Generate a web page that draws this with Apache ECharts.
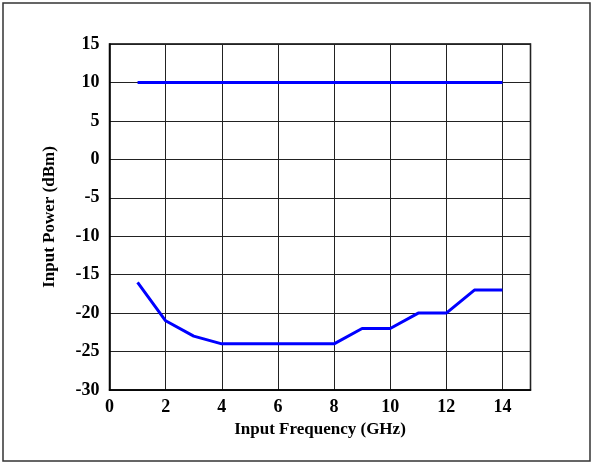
<!DOCTYPE html>
<html>
<head>
<meta charset="utf-8">
<script src="https://cdn.jsdelivr.net/npm/echarts@6/dist/echarts.min.js"></script>
<style>
html,body{margin:0;padding:0;background:#fff;}
#c{width:593px;height:464px;}
</style>
</head>
<body>
<div id="c"></div>
<script>
const freqGHz = [1, 2, 3, 4, 5, 6, 7, 8, 9, 10, 11, 12, 13, 14];
const upperPower = [10, 10, 10, 10, 10, 10, 10, 10, 10, 10, 10, 10, 10, 10];
const lowerPower = [-16, -21, -23, -24, -24, -24, -24, -24, -22, -22, -20, -20, -17, -17];
const xTicks = [0, 2, 4, 6, 8, 10, 12, 14];
const yTicks = [-30, -25, -20, -15, -10, -5, 0, 5, 10, 15];

const chart = echarts.init(document.getElementById('c'), null, {renderer: 'canvas'});
const font = 'Liberation Serif';
const pair = (xs, ys) => xs.map((x, i) => [x, ys[i]]);

chart.setOption({
  animation: false,
  backgroundColor: '#fff',
  graphic: [{
    type: 'rect',
    shape: {x: 3, y: 3, width: 587, height: 458},
    style: {fill: 'none', stroke: '#333', lineWidth: 1.5},
    silent: true
  }],
  grid: {
    left: 109.5, right: 62.5, top: 44, bottom: 74,
    show: true, borderColor: '#000', borderWidth: 1.5, backgroundColor: 'transparent'
  },
  xAxis: {
    type: 'value', min: 0, max: 15, interval: 2,
    name: 'Input Frequency (GHz)', nameLocation: 'middle', nameGap: 30,
    nameTextStyle: {fontFamily: font, fontWeight: 'bold', fontSize: 17, color: '#000'},
    axisLine: {show: true, onZero: false, lineStyle: {color: '#000', width: 1.5}},
    axisTick: {show: false},
    axisLabel: {
      fontFamily: font, fontWeight: 'bold', fontSize: 18, color: '#000', margin: 8,
      formatter: v => xTicks.includes(v) ? String(v) : ''
    },
    splitLine: {show: true, lineStyle: {color: '#222', width: 1}}
  },
  yAxis: {
    type: 'value', min: -30, max: 15, interval: 5,
    name: 'Input Power (dBm)', nameLocation: 'middle', nameGap: 51,
    nameTextStyle: {fontFamily: font, fontWeight: 'bold', fontSize: 17, color: '#000'},
    axisLine: {show: true, onZero: false, lineStyle: {color: '#000', width: 1.5}},
    axisTick: {show: false},
    axisLabel: {
      fontFamily: font, fontWeight: 'bold', fontSize: 18, color: '#000', margin: 10,
      formatter: v => yTicks.includes(v) ? String(v) : ''
    },
    splitLine: {show: true, lineStyle: {color: '#222', width: 1}}
  },
  series: [
    {
      type: 'line', data: pair(freqGHz, upperPower), showSymbol: false,
      lineStyle: {color: '#0000ff', width: 3}, itemStyle: {color: '#0000ff'}
    },
    {
      type: 'line', data: pair(freqGHz, lowerPower), showSymbol: false,
      lineStyle: {color: '#0000ff', width: 3}, itemStyle: {color: '#0000ff'}
    }
  ]
});
</script>
</body>
</html>
